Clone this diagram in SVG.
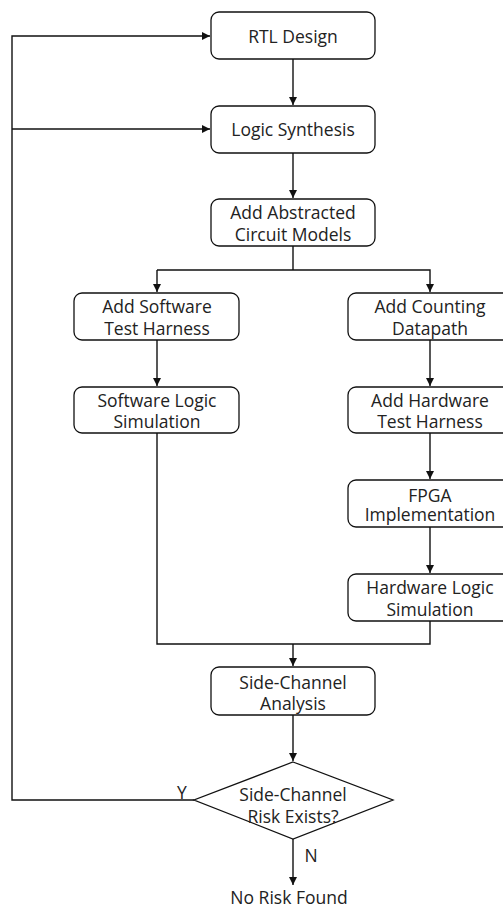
<svg xmlns="http://www.w3.org/2000/svg" width="503" height="909" viewBox="0 0 503 909">
<style>
.box{fill:#fff;stroke:#111;stroke-width:1.3}
.t{font-family:"Open Sans","Liberation Sans",sans-serif;font-size:17.5px;fill:#222;text-anchor:middle}
.c{fill:none;stroke:#111;stroke-width:1.4}
</style>
<defs>
<marker id="ah" markerWidth="8" markerHeight="8" viewBox="0 0 8 8" refX="8" refY="4" orient="auto" markerUnits="userSpaceOnUse">
<path d="M0,0 L8,4 L0,8 Z" fill="#111"/>
</marker>
</defs>
<rect width="503" height="909" fill="#fff"/>
<g id="connectors">
<path class="c" d="M293,59 V105" marker-end="url(#ah)"/>
<path class="c" d="M293,153 V198" marker-end="url(#ah)"/>
<path class="c" d="M293,246 V270"/>
<path class="c" d="M157,270 H430 V292" marker-end="url(#ah)"/>
<path class="c" d="M157,270 V292" marker-end="url(#ah)"/>
<path class="c" d="M157,340 V386" marker-end="url(#ah)"/>
<path class="c" d="M430,340 V386" marker-end="url(#ah)"/>
<path class="c" d="M430,433 V479" marker-end="url(#ah)"/>
<path class="c" d="M430,527 V573" marker-end="url(#ah)"/>
<path class="c" d="M157,433 V644 H430 V621"/>
<path class="c" d="M293,644 V666" marker-end="url(#ah)"/>
<path class="c" d="M293,715 V761" marker-end="url(#ah)"/>
<path class="c" d="M194,800 H12 V36 H210" marker-end="url(#ah)"/>
<path class="c" d="M12,129 H210" marker-end="url(#ah)"/>
<path class="c" d="M293,839 V885" marker-end="url(#ah)"/>
<text class="t" x="182" y="799">Y</text>
<text class="t" x="311" y="862">N</text>
</g>
<g id="rtl"><rect class="box" x="211" y="12" width="164" height="47" rx="8"/><text class="t" x="293" y="43">RTL Design</text></g>
<g id="synth"><rect class="box" x="211" y="106" width="164" height="47" rx="8"/><text class="t" x="293" y="136">Logic Synthesis</text></g>
<g id="abstract"><rect class="box" x="211" y="199" width="164" height="47" rx="8"/><text class="t" x="293" y="218.5">Add Abstracted</text><text class="t" x="293" y="240.5">Circuit Models</text></g>
<g id="swharness"><rect class="box" x="74" y="293" width="165" height="47" rx="8"/><text class="t" x="157" y="312.5">Add Software</text><text class="t" x="157" y="335">Test Harness</text></g>
<g id="counting"><rect class="box" x="348" y="293" width="165" height="47" rx="8"/><text class="t" x="430" y="312.5">Add Counting</text><text class="t" x="430" y="335">Datapath</text></g>
<g id="swsim"><rect class="box" x="74" y="387" width="165" height="46" rx="8"/><text class="t" x="157" y="407">Software Logic</text><text class="t" x="157" y="428">Simulation</text></g>
<g id="hwharness"><rect class="box" x="348" y="387" width="165" height="46" rx="8"/><text class="t" x="430" y="407">Add Hardware</text><text class="t" x="430" y="428">Test Harness</text></g>
<g id="fpga"><rect class="box" x="348" y="480" width="165" height="47" rx="8"/><text class="t" x="430" y="501.5">FPGA</text><text class="t" x="430" y="520.5">Implementation</text></g>
<g id="hwsim"><rect class="box" x="348" y="574" width="165" height="47" rx="8"/><text class="t" x="430" y="593.5">Hardware Logic</text><text class="t" x="430" y="615.5">Simulation</text></g>
<g id="analysis"><rect class="box" x="211" y="667" width="164" height="48" rx="8"/><text class="t" x="293" y="688.5">Side-Channel</text><text class="t" x="293" y="709.5">Analysis</text></g>
<g id="decision"><polygon class="box" points="293,762 393,800 293,839 194,800"/><text class="t" x="293" y="800.5">Side-Channel</text><text class="t" x="293" y="822.5">Risk Exists?</text></g>
<g id="norisk"><text class="t" x="289" y="904">No Risk Found</text></g>
</svg>
